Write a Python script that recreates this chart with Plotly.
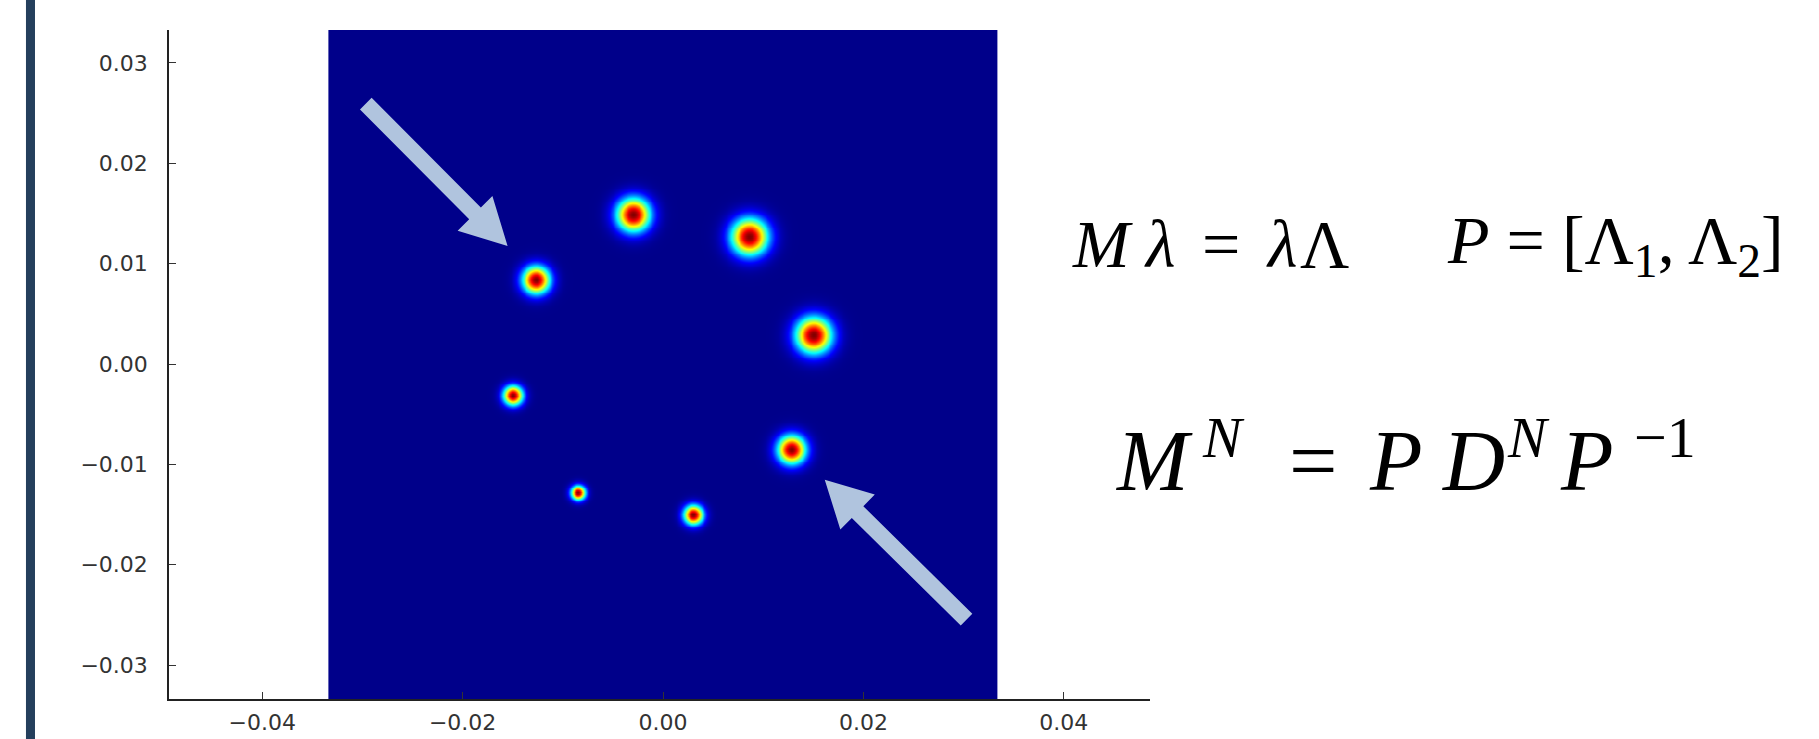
import numpy as np
import plotly.graph_objects as go

# ---- data ----
blob_x = [-0.0030, 0.0086, -0.0127, 0.0150, -0.0150, 0.0128, -0.0085, 0.0030]
blob_y = [0.0149, 0.0127, 0.0084, 0.0029, -0.0031, -0.0085, -0.0128, -0.0150]
blob_sigma = [0.00117, 0.00128, 0.00096, 0.00126, 0.00068, 0.00100, 0.00050, 0.00068]
blob_peak = [1.0, 1.0, 1.0, 1.0, 1.0, 1.0, 1.0, 1.0]
heat_extent = 0.0333
grid_n = 361

x_ticks = [-0.04, -0.02, 0.00, 0.02, 0.04]
y_ticks = [-0.03, -0.02, -0.01, 0.00, 0.01, 0.02, 0.03]

arrow_tail_x = [-0.02966, 0.03029]
arrow_tail_y = [0.02593, -0.02547]
arrow_tip_x = [-0.01551, 0.01614]
arrow_tip_y = [0.01175, -0.01152]

# ---- build heatmap ----
xs = np.linspace(-heat_extent, heat_extent, grid_n)
ys = np.linspace(-heat_extent, heat_extent, grid_n)
X, Y = np.meshgrid(xs, ys)
Z = np.zeros_like(X)
for bx, by, s, p in zip(blob_x, blob_y, blob_sigma, blob_peak):
    Z = np.maximum(Z, p * np.exp(-((X - bx) ** 2 + (Y - by) ** 2) / (2 * s ** 2)))

jet = [[0.0, 'rgb(0,0,138)'], [0.125, 'rgb(0,0,255)'], [0.375, 'rgb(0,255,255)'],
       [0.625, 'rgb(255,255,0)'], [0.875, 'rgb(255,0,0)'], [1.0, 'rgb(128,0,0)']]

fig = go.Figure()
fig.add_trace(go.Heatmap(x=xs, y=ys, z=Z, colorscale=jet, zmin=0, zmax=1,
                         showscale=False, zsmooth='best', hoverinfo='skip'))

# ---- arrows as polygons ----
def arrow_path(tx, ty, px, py, hs=0.00082, hh=0.00245, hl=0.0046):
    dx, dy = px - tx, py - ty
    L = (dx * dx + dy * dy) ** 0.5
    ux, uy = dx / L, dy / L
    nx, ny = -uy, ux
    bx, by = px - ux * hl, py - uy * hl
    pts = [
        (tx + nx * hs, ty + ny * hs),
        (bx + nx * hs, by + ny * hs),
        (bx + nx * hh, by + ny * hh),
        (px, py),
        (bx - nx * hh, by - ny * hh),
        (bx - nx * hs, by - ny * hs),
        (tx - nx * hs, ty - ny * hs),
    ]
    return 'M ' + ' L '.join(f'{a:.6f},{b:.6f}' for a, b in pts) + ' Z'

shapes = []
for tx, ty, px, py in zip(arrow_tail_x, arrow_tail_y, arrow_tip_x, arrow_tip_y):
    shapes.append(dict(type='path', path=arrow_path(tx, ty, px, py), xref='x', yref='y',
                       fillcolor='#b0c4de', line=dict(width=0), layer='above'))

# left dark bar
shapes.append(dict(type='rect', xref='paper', yref='paper', x0=-0.1458, x1=-0.1366,
                   y0=-0.2, y1=1.2, fillcolor='#243f5c', line=dict(width=0)))

# ---- equations (pieces placed by pixel position) ----
L_PX, T_PX, W_PX, H_PX = 169, 30, 981, 669
serif = 'Liberation Serif'

def piece(text, left_px, baseline_px, size):
    mid = baseline_px - 0.3375 * size
    return dict(text=text, x=(left_px - L_PX) / W_PX, y=1 - (mid - T_PX) / H_PX,
                xref='paper', yref='paper', xanchor='left', yanchor='middle',
                showarrow=False, font=dict(family=serif, size=size, color='black'))

annotations = [
    # M λ = λ Λ
    piece('<i>M</i>', 1070, 267, 68),
    piece('<i>λ</i>', 1142, 267, 68),
    piece('=', 1200, 267, 68),
    piece('<i>λ</i>', 1264, 267, 68),
    piece('Λ', 1298, 267, 68),
    # P = [Λ1, Λ2]
    piece('<i>P</i> = [Λ<sub>1</sub>, Λ<sub>2</sub>]', 1445, 267, 68),
    # M^N = P D^N P^-1
    piece('<i>M</i>', 1113, 490, 86),
    piece('<i>N</i>', 1200, 457, 58),
    piece('=', 1287, 490, 86),
    piece('<i>P</i>', 1367, 490, 86),
    piece('<i>D</i>', 1440, 490, 86),
    piece('<i>N</i>', 1505, 457, 58),
    piece('<i>P</i>', 1558, 490, 86),
    piece('−1', 1632, 457, 58),
]

axis_common = dict(showline=True, linecolor='#222', linewidth=1.5, ticks='inside', ticklen=7,
                   tickwidth=1.2, tickcolor='#333', showgrid=False, zeroline=False,
                   automargin=False, tickformat='.2f',
                   tickfont=dict(family='DejaVu Sans', size=22, color='#333'))

fig.update_layout(
    width=1819, height=739,
    margin=dict(l=169, r=669, t=30, b=40),
    paper_bgcolor='white', plot_bgcolor='white',
    xaxis=dict(range=[-0.0493, 0.0486], tickvals=x_ticks, ticklabelstandoff=3, **axis_common),
    yaxis=dict(range=[-0.03337, 0.03327], tickvals=y_ticks, ticklabelstandoff=15, **axis_common),
    shapes=shapes, annotations=annotations, showlegend=False,
)

fig.write_html('out.html', config={'displayModeBar': False},
               post_script="document.body.style.margin='0';")
